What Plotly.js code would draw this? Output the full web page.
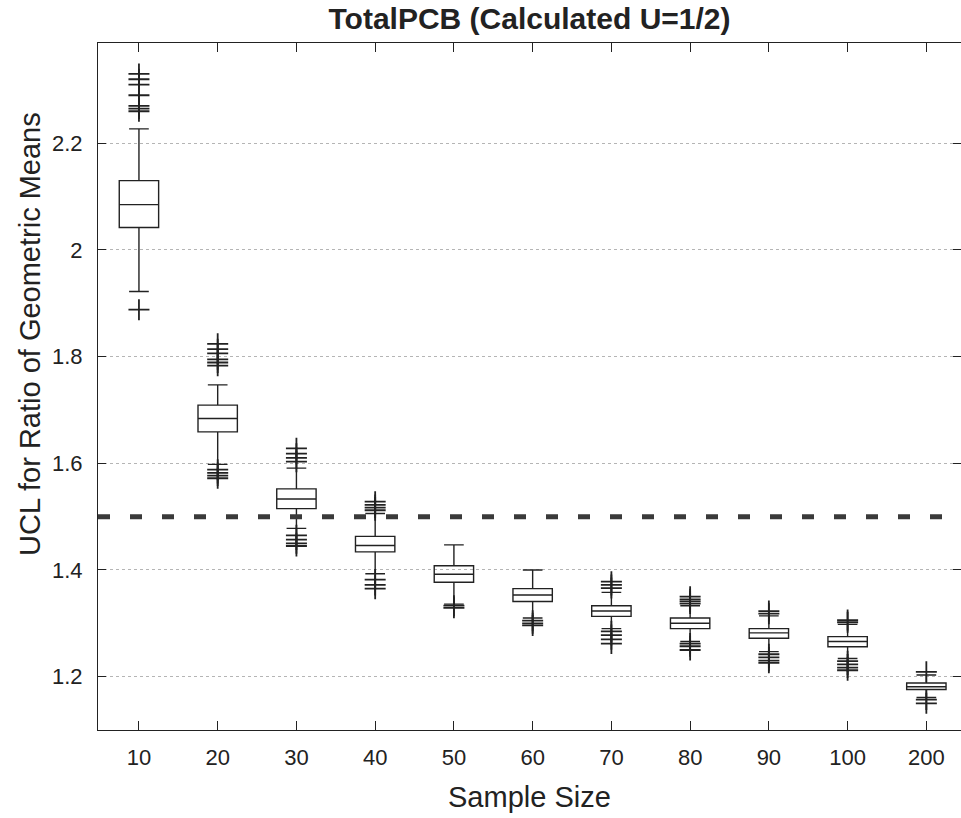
<!DOCTYPE html>
<html>
<head>
<meta charset="utf-8">
<script src="https://cdn.plot.ly/plotly-3.0.1.min.js"></script>
<style>html,body{margin:0;padding:0;background:#fff;}#chart{width:961px;height:818px;}</style>
</head>
<body>
<div id="chart"></div>
<script>
// Sample sizes (categories)
const categories = ['10','20','30','40','50','60','70','80','90','100','200'];
// Box statistics
const q1           = [2.042, 1.659, 1.515, 1.434, 1.377, 1.341, 1.313, 1.290, 1.272, 1.256, 1.176];
const medians      = [2.085, 1.684, 1.533, 1.446, 1.392, 1.353, 1.323, 1.300, 1.282, 1.266, 1.181];
const q3           = [2.130, 1.709, 1.552, 1.463, 1.408, 1.365, 1.333, 1.310, 1.290, 1.275, 1.188];
const lowerWhisker = [1.922, 1.598, 1.478, 1.393, 1.336, 1.310, 1.290, 1.266, 1.247, 1.234, 1.161];
const upperWhisker = [2.227, 1.747, 1.591, 1.506, 1.447, 1.400, 1.358, 1.333, 1.314, 1.298, 1.203];
// Outliers per sample size
const out10  = [2.330, 2.320, 2.310, 2.290, 2.270, 2.265, 2.260, 1.888];
const out20  = [1.824, 1.814, 1.806, 1.795, 1.789, 1.783, 1.588, 1.582, 1.577, 1.572];
const out30  = [1.628, 1.618, 1.610, 1.603, 1.465, 1.457, 1.450, 1.445];
const out40  = [1.528, 1.522, 1.517, 1.512, 1.382, 1.372, 1.365];
const out50  = [1.333, 1.329];
const out60  = [1.305, 1.300, 1.296];
const out70  = [1.378, 1.372, 1.366, 1.285, 1.278, 1.270, 1.262];
const out80  = [1.350, 1.345, 1.341, 1.337, 1.262, 1.257, 1.250];
const out90  = [1.323, 1.318, 1.242, 1.236, 1.230, 1.226];
const out100 = [1.306, 1.302, 1.229, 1.223, 1.217, 1.212];
const out200 = [1.209, 1.157, 1.150];
const outliers = [out10, out20, out30, out40, out50, out60, out70, out80, out90, out100, out200];
// Reference level
const refLevel = 1.5;
// Y tick labels
const yTickVals = [1.2, 1.4, 1.6, 1.8, 2.0, 2.2];
const yTickText = ['1.2', '1.4', '1.6', '1.8', '2', '2.2'];

const ink = '#222222';
const fontFam = '"Liberation Sans", Arial, Helvetica, sans-serif';

const outX = [], outY = [];
outliers.forEach((arr, i) => arr.forEach(v => { outX.push(categories[i]); outY.push(v); }));

const traces = [
  {
    type: 'box',
    x: categories,
    q1: q1,
    median: medians,
    q3: q3,
    lowerfence: lowerWhisker,
    upperfence: upperWhisker,
    boxpoints: false,
    width: 0.5,
    whiskerwidth: 0.5,
    fillcolor: 'rgba(0,0,0,0)',
    line: {color: ink, width: 1.4},
    showlegend: false,
    hoverinfo: 'skip'
  },
  {
    type: 'scatter',
    mode: 'markers',
    x: outX,
    y: outY,
    marker: {symbol: 'cross-thin-open', size: 15, color: ink, line: {color: ink, width: 1.8}},
    showlegend: false,
    hoverinfo: 'skip'
  }
];

const layout = {
  width: 961,
  height: 818,
  margin: {l: 98, r: 0, t: 43, b: 88},
  paper_bgcolor: '#ffffff',
  plot_bgcolor: '#ffffff',
  font: {family: fontFam, color: ink, size: 22},
  showlegend: false,
  title: {
    text: '<b>TotalPCB (Calculated U=1/2)</b>',
    font: {family: fontFam, size: 30, color: ink},
    x: 0.5, xref: 'paper', xanchor: 'center',
    y: 1 - 18/818, yref: 'container', yanchor: 'middle'
  },
  xaxis: {
    type: 'category',
    categoryorder: 'array',
    categoryarray: categories,
    range: [-0.52, 10.44],
    showline: true, linecolor: ink, linewidth: 1,
    mirror: 'ticks',
    ticks: 'inside', ticklen: 9, tickcolor: ink, tickwidth: 1,
    showgrid: false, zeroline: false,
    tickfont: {family: fontFam, size: 22, color: ink},
    ticklabelstandoff: 8,
    automargin: false
  },
  yaxis: {
    range: [1.1, 2.388],
    tickvals: yTickVals,
    ticktext: yTickText,
    showline: true, linecolor: ink, linewidth: 1,
    mirror: 'ticks',
    ticks: 'inside', ticklen: 8, tickcolor: ink, tickwidth: 1,
    showgrid: true, gridcolor: '#b5b5b5', griddash: 'dot', gridwidth: 1,
    zeroline: false,
    tickfont: {family: fontFam, size: 22, color: ink},
    ticklabelstandoff: 10,
    automargin: false
  },
  annotations: [
    {
      text: 'Sample Size', showarrow: false,
      xref: 'paper', x: 0.5, xanchor: 'center',
      yref: 'paper', y: 0, yanchor: 'middle', yshift: -67,
      font: {family: fontFam, size: 29, color: ink}
    },
    {
      text: 'UCL for Ratio of Geometric Means', showarrow: false, textangle: -90,
      xref: 'paper', x: 0, xanchor: 'center', xshift: -68,
      yref: 'paper', y: (730 - 334) / (730 - 43), yanchor: 'middle',
      font: {family: fontFam, size: 29, color: ink}
    }
  ],
  shapes: [
    {
      type: 'line', xref: 'paper', x0: 0, x1: 1, yref: 'y', y0: refLevel, y1: refLevel,
      line: {color: '#3a3a3a', width: 5, dash: '12px,20px'},
      layer: 'above'
    }
  ]
};

Plotly.newPlot('chart', traces, layout, {displayModeBar: false, staticPlot: true});
</script>
</body>
</html>
